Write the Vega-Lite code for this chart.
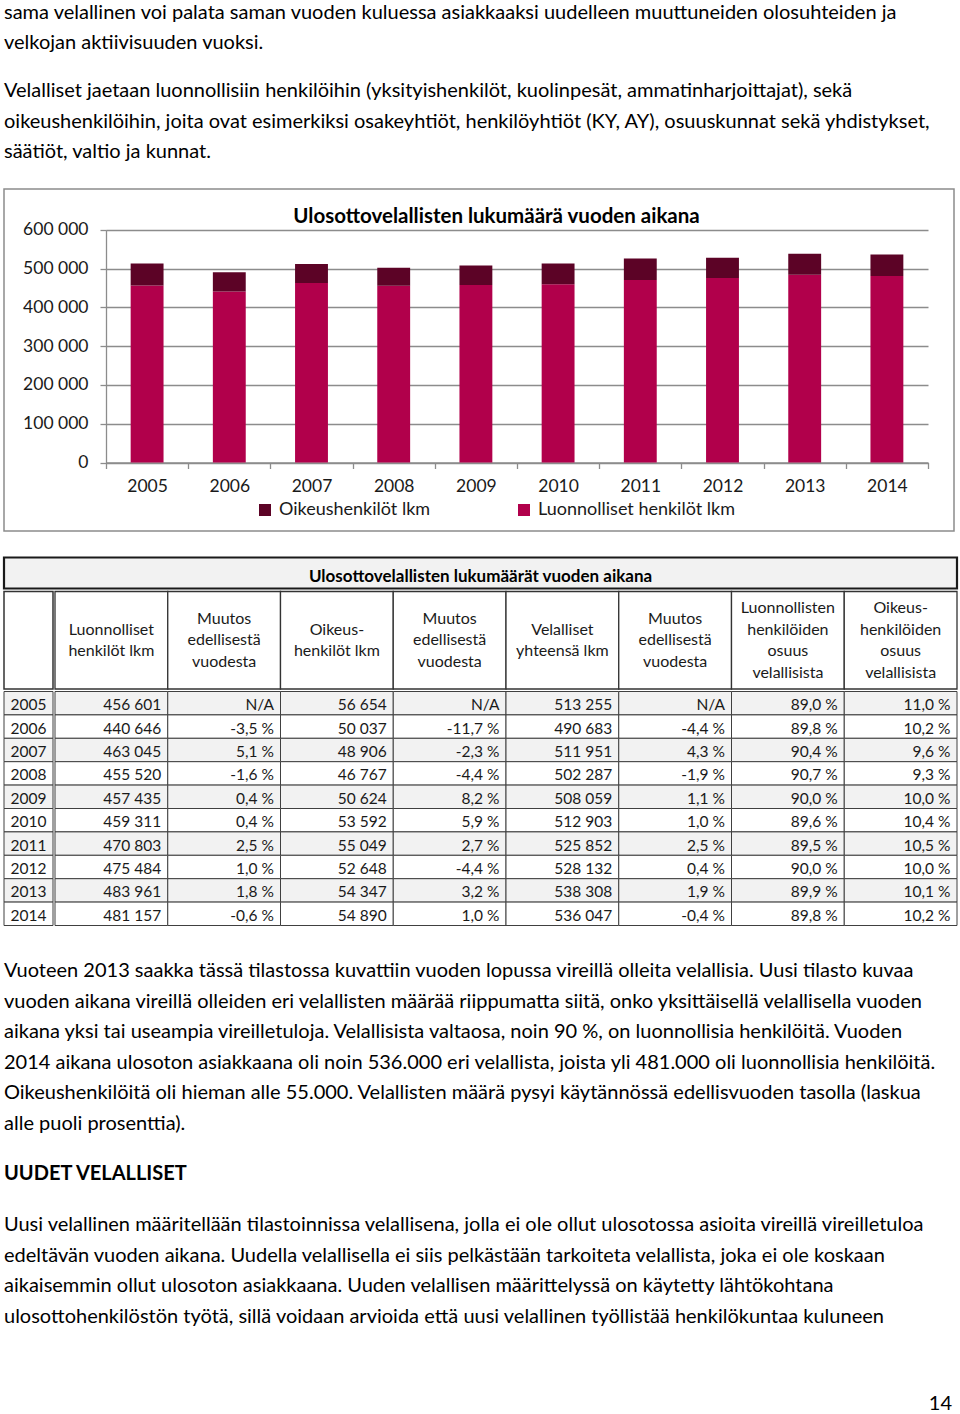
{
  "$schema": "https://vega.github.io/schema/vega-lite/v6.json",
  "padding": {"left": 2, "top": 0, "right": 0, "bottom": 0},
  "background": "white",
  "config": {"view": {"stroke": null}, "font": "Lato"},
  "datasets": {
    "p1": [
      {"i": 0, "t": "sama velallinen voi palata saman vuoden kuluessa asiakkaaksi uudelleen muuttuneiden olosuhteiden ja"},
      {"i": 1, "t": "velkojan aktiivisuuden vuoksi."}
    ],
    "p2": [
      {"i": 0, "t": "Velalliset jaetaan luonnollisiin henkilöihin (yksityishenkilöt, kuolinpesät, ammatinharjoittajat), sekä"},
      {"i": 1, "t": "oikeushenkilöihin, joita ovat esimerkiksi osakeyhtiöt, henkilöyhtiöt (KY, AY), osuuskunnat sekä yhdistykset,"},
      {"i": 2, "t": "säätiöt, valtio ja kunnat."}
    ],
    "p3": [
      {"i": 0, "t": "Vuoteen 2013 saakka tässä tilastossa kuvattiin vuoden lopussa vireillä olleita velallisia. Uusi tilasto kuvaa"},
      {"i": 1, "t": "vuoden aikana vireillä olleiden eri velallisten määrää riippumatta siitä, onko yksittäisellä velallisella vuoden"},
      {"i": 2, "t": "aikana yksi tai useampia vireilletuloja. Velallisista valtaosa, noin 90 %, on luonnollisia henkilöitä. Vuoden"},
      {"i": 3, "t": "2014 aikana ulosoton asiakkaana oli noin 536.000 eri velallista, joista yli 481.000 oli luonnollisia henkilöitä."},
      {"i": 4, "t": "Oikeushenkilöitä oli hieman alle 55.000. Velallisten määrä pysyi käytännössä edellisvuoden tasolla (laskua"},
      {"i": 5, "t": "alle puoli prosenttia)."}
    ],
    "p4": [
      {"i": 0, "t": "UUDET VELALLISET"}
    ],
    "p5": [
      {"i": 0, "t": "Uusi velallinen määritellään tilastoinnissa velallisena, jolla ei ole ollut ulosotossa asioita vireillä vireilletuloa"},
      {"i": 1, "t": "edeltävän vuoden aikana. Uudella velallisella ei siis pelkästään tarkoiteta velallista, joka ei ole koskaan"},
      {"i": 2, "t": "aikaisemmin ollut ulosoton asiakkaana. Uuden velallisen määrittelyssä on käytetty lähtökohtana"},
      {"i": 3, "t": "ulosottohenkilöstön työtä, sillä voidaan arvioida että uusi velallinen työllistää henkilökuntaa kuluneen"}
    ],
    "page": [
      {"i": 0, "t": "14"}
    ],
    "bars": [
      {"year": "2005", "type": "Luonnolliset henkilöt lkm", "count": 456601},
      {"year": "2005", "type": "Oikeushenkilöt lkm", "count": 56654},
      {"year": "2006", "type": "Luonnolliset henkilöt lkm", "count": 440646},
      {"year": "2006", "type": "Oikeushenkilöt lkm", "count": 50037},
      {"year": "2007", "type": "Luonnolliset henkilöt lkm", "count": 463045},
      {"year": "2007", "type": "Oikeushenkilöt lkm", "count": 48906},
      {"year": "2008", "type": "Luonnolliset henkilöt lkm", "count": 455520},
      {"year": "2008", "type": "Oikeushenkilöt lkm", "count": 46767},
      {"year": "2009", "type": "Luonnolliset henkilöt lkm", "count": 457435},
      {"year": "2009", "type": "Oikeushenkilöt lkm", "count": 50624},
      {"year": "2010", "type": "Luonnolliset henkilöt lkm", "count": 459311},
      {"year": "2010", "type": "Oikeushenkilöt lkm", "count": 53592},
      {"year": "2011", "type": "Luonnolliset henkilöt lkm", "count": 470803},
      {"year": "2011", "type": "Oikeushenkilöt lkm", "count": 55049},
      {"year": "2012", "type": "Luonnolliset henkilöt lkm", "count": 475484},
      {"year": "2012", "type": "Oikeushenkilöt lkm", "count": 52648},
      {"year": "2013", "type": "Luonnolliset henkilöt lkm", "count": 483961},
      {"year": "2013", "type": "Oikeushenkilöt lkm", "count": 54347},
      {"year": "2014", "type": "Luonnolliset henkilöt lkm", "count": 481157},
      {"year": "2014", "type": "Oikeushenkilöt lkm", "count": 54890}
    ],
    "headers": [
      {"k": "c1", "h": "Luonnolliset\nhenkilöt lkm"},
      {"k": "c2", "h": "Muutos\nedellisestä\nvuodesta"},
      {"k": "c3", "h": "Oikeus-\nhenkilöt lkm"},
      {"k": "c4", "h": "Muutos\nedellisestä\nvuodesta"},
      {"k": "c5", "h": "Velalliset\nyhteensä lkm"},
      {"k": "c6", "h": "Muutos\nedellisestä\nvuodesta"},
      {"k": "c7", "h": "Luonnollisten\nhenkilöiden\nosuus\nvelallisista"},
      {"k": "c8", "h": "Oikeus-\nhenkilöiden\nosuus\nvelallisista"}
    ],
    "table": [
      {"v": "2005", "c1": "456 601", "c2": "N/A", "c3": "56 654", "c4": "N/A", "c5": "513 255", "c6": "N/A", "c7": "89,0 %", "c8": "11,0 %"},
      {"v": "2006", "c1": "440 646", "c2": "-3,5 %", "c3": "50 037", "c4": "-11,7 %", "c5": "490 683", "c6": "-4,4 %", "c7": "89,8 %", "c8": "10,2 %"},
      {"v": "2007", "c1": "463 045", "c2": "5,1 %", "c3": "48 906", "c4": "-2,3 %", "c5": "511 951", "c6": "4,3 %", "c7": "90,4 %", "c8": "9,6 %"},
      {"v": "2008", "c1": "455 520", "c2": "-1,6 %", "c3": "46 767", "c4": "-4,4 %", "c5": "502 287", "c6": "-1,9 %", "c7": "90,7 %", "c8": "9,3 %"},
      {"v": "2009", "c1": "457 435", "c2": "0,4 %", "c3": "50 624", "c4": "8,2 %", "c5": "508 059", "c6": "1,1 %", "c7": "90,0 %", "c8": "10,0 %"},
      {"v": "2010", "c1": "459 311", "c2": "0,4 %", "c3": "53 592", "c4": "5,9 %", "c5": "512 903", "c6": "1,0 %", "c7": "89,6 %", "c8": "10,4 %"},
      {"v": "2011", "c1": "470 803", "c2": "2,5 %", "c3": "55 049", "c4": "2,7 %", "c5": "525 852", "c6": "2,5 %", "c7": "89,5 %", "c8": "10,5 %"},
      {"v": "2012", "c1": "475 484", "c2": "1,0 %", "c3": "52 648", "c4": "-4,4 %", "c5": "528 132", "c6": "0,4 %", "c7": "90,0 %", "c8": "10,0 %"},
      {"v": "2013", "c1": "483 961", "c2": "1,8 %", "c3": "54 347", "c4": "3,2 %", "c5": "538 308", "c6": "1,9 %", "c7": "89,9 %", "c8": "10,1 %"},
      {"v": "2014", "c1": "481 157", "c2": "-0,6 %", "c3": "54 890", "c4": "1,0 %", "c5": "536 047", "c6": "-0,4 %", "c7": "89,8 %", "c8": "10,2 %"}
    ]
  },
  "spacing": 16,
  "vconcat": [
    {
      "spacing": 19,
      "vconcat": [
        {
          "width": 948, "height": 61,
          "data": {"name": "p1"},
          "mark": {"type": "text", "align": "left", "baseline": "alphabetic", "dy": 3.5, "fontSize": 20, "font": "Lato", "color": "#000000"},
          "encoding": {
            "x": {"value": 0},
            "y": {"field": "i", "type": "ordinal", "scale": {"type": "point", "padding": 0.5}, "axis": null},
            "text": {"field": "t"}
          }
        },
        {
          "width": 948, "height": 91.5,
          "data": {"name": "p2"},
          "mark": {"type": "text", "align": "left", "baseline": "alphabetic", "dy": 1.75, "fontSize": 20, "font": "Lato", "color": "#000000"},
          "encoding": {
            "x": {"value": 0},
            "y": {"field": "i", "type": "ordinal", "scale": {"type": "point", "padding": 0.5}, "axis": null},
            "text": {"field": "t"}
          }
        }
      ]
    },
    {
      "spacing": 23.5,
      "vconcat": [
        {
          "width": 950, "height": 342,
          "view": {"stroke": "#8c8c8c", "strokeWidth": 1.5, "fill": "white"},
          "title": {"text": "Ulosottovelallisten lukumäärä vuoden aikana", "font": "Lato", "fontSize": 20.5, "fontWeight": "bold", "color": "#000000", "offset": -38, "dx": 17.5, "anchor": "middle", "frame": "group"},
          "data": {"name": "bars"},
          "mark": {"type": "bar", "width": {"band": 0.4}},
          "encoding": {
            "x": {
              "field": "year", "type": "ordinal",
              "scale": {"type": "band", "range": [102, 924], "paddingInner": 0, "paddingOuter": 0},
              "axis": {"title": null, "orient": "bottom", "offset": -68.5, "tickBand": "extent", "grid": false, "domainColor": "#8c8c8c", "domainWidth": 1.3, "tickColor": "#8c8c8c", "tickWidth": 1.3, "tickSize": 6, "labelFont": "Lato", "labelFontSize": 17.5, "labelColor": "#1a1a1a", "labelPadding": 9, "labelAngle": 0}
            },
            "y": {
              "field": "count", "type": "quantitative", "stack": "zero",
              "scale": {"domain": [0, 600000], "range": [273.5, 40.8], "nice": false, "zero": true},
              "axis": {"title": null, "orient": "left", "offset": -102, "values": [0, 100000, 200000, 300000, 400000, 500000, 600000], "labelExpr": "replace(format(datum.value, ','), ',', ' ')", "grid": true, "gridColor": "#8c8c8c", "gridWidth": 1.3, "domainColor": "#8c8c8c", "domainWidth": 1.3, "tickColor": "#8c8c8c", "tickWidth": 1.3, "tickSize": 6, "labelPadding": 12, "labelFont": "Lato", "labelFontSize": 17.5, "labelColor": "#1a1a1a"}
            },
            "color": {
              "field": "type", "type": "nominal",
              "scale": {"domain": ["Oikeushenkilöt lkm", "Luonnolliset henkilöt lkm"], "range": ["#5c0326", "#b1004b"]},
              "legend": {"orient": "none", "legendX": 252, "legendY": 501, "direction": "horizontal", "title": null, "symbolType": "square", "symbolSize": 144, "symbolStrokeWidth": 0, "labelFont": "Lato", "labelFontSize": 18, "labelColor": "#1a1a1a", "labelOffset": 5, "labelLimit": 400, "columnPadding": 84, "padding": 0}
            },
            "order": {"field": "type", "sort": "ascending"}
          }
        },
        {
          "spacing": 33.5,
          "vconcat": [
            {
              "spacing": 0,
              "vconcat": [
                {
                  "width": 953, "height": 31,
                  "view": {"fill": "#f2f2f2", "stroke": "#1a1a1a", "strokeWidth": 2.2},
                  "data": {"values": [{"t": "Ulosottovelallisten lukumäärät vuoden aikana"}]},
                  "mark": {"type": "text", "fontWeight": "bold", "fontSize": 17, "font": "Lato", "baseline": "middle", "dy": 4, "color": "#000000"},
                  "encoding": {"text": {"field": "t"}}
                },
                {
                  "spacing": 0,
                  "hconcat": [
                    {
                      "width": 49, "height": 97.5,
                      "view": {"stroke": "#333333", "strokeWidth": 1.5, "fill": "white"},
                      "data": {"values": [{"t": ""}]},
                      "mark": {"type": "text"},
                      "encoding": {"text": {"field": "t"}}
                    },
                    {
                      "width": 902, "height": 97.5,
                      "data": {"name": "headers"},
                      "layer": [
                        {
                          "mark": {"type": "rect", "fill": "white", "stroke": "#333333", "strokeWidth": 1.3},
                          "encoding": {
                            "x": {"field": "k", "type": "nominal", "sort": null, "scale": {"domain": ["c1", "c2", "c3", "c4", "c5", "c6", "c7", "c8"], "paddingInner": 0, "paddingOuter": 0}, "axis": null},
                            "y": {"value": 0},
                            "y2": {"value": "height"}
                          }
                        },
                        {
                          "transform": [{"filter": {"field": "k", "oneOf": ["c1", "c3", "c5"]}}],
                          "mark": {"type": "text", "lineBreak": "\n", "lineHeight": 21.5, "fontSize": 16, "font": "Lato", "baseline": "middle", "align": "center", "dy": -10.75, "color": "#1a1a1a"},
                          "encoding": {
                            "x": {"field": "k", "type": "nominal", "sort": null, "scale": {"domain": ["c1", "c2", "c3", "c4", "c5", "c6", "c7", "c8"], "paddingInner": 0, "paddingOuter": 0}, "axis": null},
                            "text": {"field": "h"}
                          }
                        },
                        {
                          "transform": [{"filter": {"field": "k", "oneOf": ["c2", "c4", "c6"]}}],
                          "mark": {"type": "text", "lineBreak": "\n", "lineHeight": 21.5, "fontSize": 16, "font": "Lato", "baseline": "middle", "align": "center", "dy": -21.5, "color": "#1a1a1a"},
                          "encoding": {
                            "x": {"field": "k", "type": "nominal", "sort": null, "scale": {"domain": ["c1", "c2", "c3", "c4", "c5", "c6", "c7", "c8"], "paddingInner": 0, "paddingOuter": 0}, "axis": null},
                            "text": {"field": "h"}
                          }
                        },
                        {
                          "transform": [{"filter": {"field": "k", "oneOf": ["c7", "c8"]}}],
                          "mark": {"type": "text", "lineBreak": "\n", "lineHeight": 21.5, "fontSize": 16, "font": "Lato", "baseline": "middle", "align": "center", "dy": -32.25, "color": "#1a1a1a"},
                          "encoding": {
                            "x": {"field": "k", "type": "nominal", "sort": null, "scale": {"domain": ["c1", "c2", "c3", "c4", "c5", "c6", "c7", "c8"], "paddingInner": 0, "paddingOuter": 0}, "axis": null},
                            "text": {"field": "h"}
                          }
                        }
                      ]
                    }
                  ]
                },
                {
                  "spacing": 0,
                  "hconcat": [
                    {
                      "width": 49, "height": 234,
                      "data": {"name": "table"},
                      "layer": [
                        {
                          "mark": {"type": "rect", "stroke": "#404040", "strokeWidth": 1},
                          "encoding": {
                            "y": {"field": "v", "type": "ordinal", "scale": {"paddingInner": 0, "paddingOuter": 0}, "axis": null},
                            "x": {"value": 0},
                            "x2": {"value": "width"},
                            "fill": {"condition": {"test": "datum.v % 2 == 1", "value": "#f2f2f2"}, "value": "#ffffff"}
                          }
                        },
                        {
                          "mark": {"type": "text", "fontSize": 15.5, "font": "Lato", "baseline": "middle", "dy": 2, "color": "#1a1a1a"},
                          "encoding": {
                            "y": {"field": "v", "type": "ordinal", "scale": {"paddingInner": 0, "paddingOuter": 0}, "axis": null},
                            "text": {"field": "v"}
                          }
                        }
                      ]
                    },
                    {
                      "width": 902, "height": 234,
                      "data": {"name": "table"},
                      "transform": [{"fold": ["c1", "c2", "c3", "c4", "c5", "c6", "c7", "c8"], "as": ["key", "val"]}],
                      "layer": [
                        {
                          "mark": {"type": "rect", "stroke": "#404040", "strokeWidth": 1},
                          "encoding": {
                            "x": {"field": "key", "type": "nominal", "scale": {"domain": ["c1", "c2", "c3", "c4", "c5", "c6", "c7", "c8"], "paddingInner": 0, "paddingOuter": 0}, "axis": null},
                            "y": {"field": "v", "type": "ordinal", "scale": {"paddingInner": 0, "paddingOuter": 0}, "axis": null},
                            "fill": {"condition": {"test": "datum.v % 2 == 1", "value": "#f2f2f2"}, "value": "#ffffff"}
                          }
                        },
                        {
                          "mark": {"type": "text", "fontSize": 15.5, "font": "Lato", "baseline": "middle", "align": "right", "dx": -6.5, "dy": 2, "color": "#1a1a1a"},
                          "encoding": {
                            "x": {"field": "key", "type": "nominal", "bandPosition": 1, "scale": {"domain": ["c1", "c2", "c3", "c4", "c5", "c6", "c7", "c8"], "paddingInner": 0, "paddingOuter": 0}, "axis": null},
                            "y": {"field": "v", "type": "ordinal", "scale": {"paddingInner": 0, "paddingOuter": 0}, "axis": null},
                            "text": {"field": "val"}
                          }
                        }
                      ]
                    }
                  ]
                }
              ]
            },
            {
              "spacing": 58,
              "vconcat": [
                {
                  "spacing": 20,
                  "vconcat": [
                    {
                      "width": 948, "height": 183,
                      "data": {"name": "p3"},
                      "mark": {"type": "text", "align": "left", "baseline": "alphabetic", "dy": 1.75, "fontSize": 20, "font": "Lato", "color": "#000000"},
                      "encoding": {
                        "x": {"value": 0},
                        "y": {"field": "i", "type": "ordinal", "scale": {"type": "point", "padding": 0.5}, "axis": null},
                        "text": {"field": "t"}
                      }
                    },
                    {
                      "width": 948, "height": 30.5,
                      "data": {"name": "p4"},
                      "mark": {"type": "text", "align": "left", "baseline": "alphabetic", "dy": 1.75, "fontSize": 20, "font": "Lato", "fontWeight": "bold", "color": "#000000"},
                      "encoding": {
                        "x": {"value": 0},
                        "y": {"field": "i", "type": "ordinal", "scale": {"type": "point", "padding": 0.5}, "axis": null},
                        "text": {"field": "t"}
                      }
                    },
                    {
                      "width": 948, "height": 122,
                      "data": {"name": "p5"},
                      "mark": {"type": "text", "align": "left", "baseline": "alphabetic", "dy": 1.75, "fontSize": 20, "font": "Lato", "color": "#000000"},
                      "encoding": {
                        "x": {"value": 0},
                        "y": {"field": "i", "type": "ordinal", "scale": {"type": "point", "padding": 0.5}, "axis": null},
                        "text": {"field": "t"}
                      }
                    }
                  ]
                },
                {
                  "width": 948, "height": 16,
                  "data": {"name": "page"},
                  "mark": {"type": "text", "align": "right", "baseline": "alphabetic", "dy": 6, "fontSize": 20, "font": "Lato", "color": "#000000"},
                  "encoding": {
                    "x": {"value": "width"},
                    "y": {"field": "i", "type": "ordinal", "scale": {"type": "point", "padding": 0.5}, "axis": null},
                    "text": {"field": "t"}
                  }
                }
              ]
            }
          ]
        }
      ]
    }
  ]
}
